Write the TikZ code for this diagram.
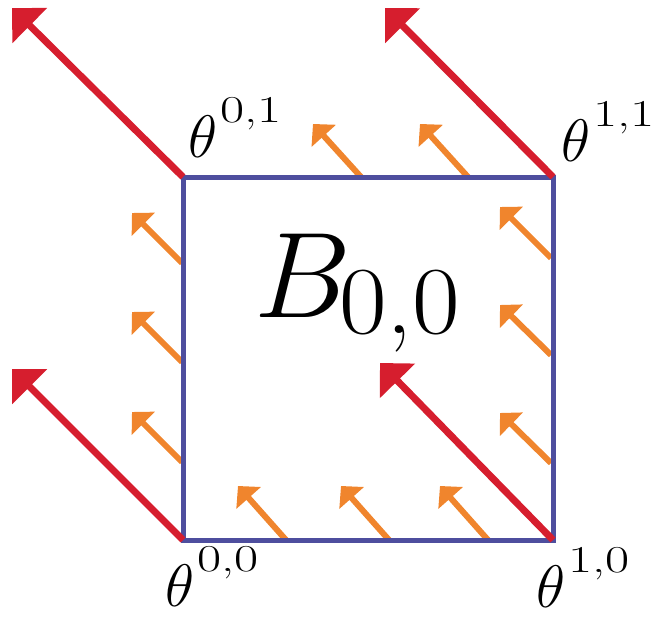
\RequirePackage{fix-cm}
\documentclass[tikz,border=0pt]{standalone}
\usetikzlibrary{arrows.meta}
\definecolor{sqblue}{RGB}{78,78,158}
\definecolor{bigred}{RGB}{214,30,46}
\definecolor{smallor}{RGB}{240,133,45}
\tikzset{
  bigarrow/.style={bigred, line width=7pt, -{Triangle[width=48pt,length=25pt]}},
  smallarrow/.style={smallor, line width=6pt, -{Triangle[width=32pt,length=16pt]}},
  lbl/.style={inner sep=0pt, anchor=base west},
}
\newcommand\thlab[1]{\fontsize{60}{60}\selectfont$\theta$\kern3pt\raisebox{35pt}{\scalebox{1.38}[1]{\fontsize{38}{38}\selectfont #1}}}
\begin{document}
\begin{tikzpicture}[x=1pt,y=-1pt]
\useasboundingbox (0,0) rectangle (658,618);
% corners
\coordinate (c00) at (183,540);
\coordinate (c10) at (553,540);
\coordinate (c01) at (183,177);
\coordinate (c11) at (553,177);
% red tips
\coordinate (r01) at (12,8);
\coordinate (r11) at (385,8);
\coordinate (r00) at (12,369);
\coordinate (r10) at (380,363);
% orange bases and tips
\coordinate (l1) at (182,263); \coordinate (l1t) at (132,213);
\coordinate (l2) at (182,362); \coordinate (l2t) at (132,312);
\coordinate (l3) at (182,462); \coordinate (l3t) at (132,412);
\coordinate (q1) at (551,258); \coordinate (q1t) at (500,207);
\coordinate (q2) at (551,355); \coordinate (q2t) at (500,305);
\coordinate (q3) at (551,463); \coordinate (q3t) at (500,413);
\coordinate (b1) at (286,540); \coordinate (b1t) at (238,486);
\coordinate (b2) at (389,540); \coordinate (b2t) at (341,486);
\coordinate (b3) at (488,540); \coordinate (b3t) at (440,486);
\coordinate (t1) at (361,177); \coordinate (t1t) at (313,124);
\coordinate (t2) at (468,177); \coordinate (t2t) at (420,124);
% orange arrows
\foreach \a in {l1,l2,l3,q1,q2,q3,b1,b2,b3,t1,t2}
  \draw[smallarrow] (\a) -- (\a t);
% square
\draw[sqblue, line width=5pt] (c00) rectangle (c11);
% red arrows
\draw[bigarrow] (c01) -- (r01);
\draw[bigarrow] (c11) -- (r11);
\draw[bigarrow] (c00) -- (r00);
\draw[bigarrow] (c10) -- (r10);
% labels
\node[lbl] (L01) at (188,157) {\thlab{0,1}};
\node[lbl] (L11) at (561,161) {\thlab{1,1}};
\node[lbl] (L00) at (165,606) {\thlab{0,0}};
\node[lbl] (L10) at (536,607) {\thlab{1,0}};
\node[lbl] (B) at (254,317) {\fontsize{122}{122}\selectfont$B$\kern-12pt\raisebox{-16pt}{\scalebox{1.08}[1]{\fontsize{96}{96}\selectfont 0,0}}};
\end{tikzpicture}
\end{document}
